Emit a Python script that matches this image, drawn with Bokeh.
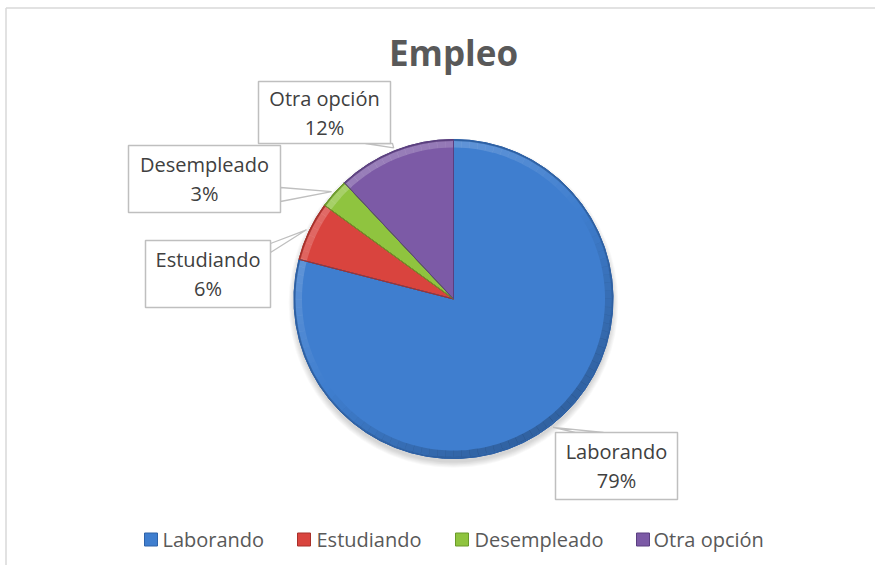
import math
from bokeh.plotting import figure
from bokeh.models import Range1d
from bokeh.core.properties import value
from bokeh.embed import file_html
from bokeh.resources import INLINE

# ---- data ----
categories = ["Laborando", "Estudiando", "Desempleado", "Otra opción"]
percentages = [79, 6, 3, 12]
title_text = "Empleo"

# ---- styles ----
colors = ["#3F7ECF", "#D9443E", "#8FC43F", "#7C5AA6"]
edge_colors = ["#2E62A8", "#A8302A", "#6A9A2A", "#5A3F80"]
FONT = "Open Sans"

W, H = 875, 565
p = figure(width=W, height=H, output_backend="svg", toolbar_location=None,
           x_range=Range1d(0, W), y_range=Range1d(0, H), min_border=0)
p.axis.visible = False
p.grid.visible = False
p.outline_line_color = None
p.background_fill_color = "white"
p.border_fill_color = "white"

def Y(py):
    return H - py

# chart border (top & left visible)
p.segment(x0=[5.5, 5.5], y0=[Y(7.5), Y(7.5)], x1=[W, 5.5], y1=[Y(7.5), 0],
          line_color="#D9D9D9", line_width=1.5)

# title
p.text(x=[453], y=[Y(52)], text=[title_text], text_font=value(FONT),
       text_font_size="35px", text_font_style="bold", text_color="#595959",
       text_align="center", text_baseline="middle")

# pie geometry
cx, cy, r = 453, Y(298.5), 159.5

# soft shadow
for i in range(7):
    p.circle(x=[cx], y=[cy - 4], radius=r + i * 0.9, fill_color="#000000",
             fill_alpha=0.022, line_color=None)

total = float(sum(percentages))
starts, ends, mids = [], [], []
cum = 0.0
for v in percentages:
    a0 = math.pi / 2 - 2 * math.pi * cum / total
    cum += v
    a1 = math.pi / 2 - 2 * math.pi * cum / total
    starts.append(a0)
    ends.append(a1)
    mids.append((a0 + a1) / 2)

p.wedge(x=[cx] * 4, y=[cy] * 4, radius=r, start_angle=starts, end_angle=ends,
        direction="clock", fill_color=colors, line_color=edge_colors, line_width=1)

# bevel: light toward upper-left, dark toward lower-right
nseg = 120
seg_s, seg_e, seg_c, seg_a = [], [], [], []
for j in range(nseg):
    a0 = 2 * math.pi * j / nseg
    a1 = 2 * math.pi * (j + 1) / nseg
    am = (a0 + a1) / 2
    k = math.cos(am - math.radians(125))
    seg_s.append(a0)
    seg_e.append(a1 + 0.002)
    if k >= 0:
        seg_c.append("#FFFFFF")
        seg_a.append(0.22 * k)
    else:
        seg_c.append("#000000")
        seg_a.append(0.22 * -k)
p.annular_wedge(x=[cx] * nseg, y=[cy] * nseg, inner_radius=r - 8, outer_radius=r - 1.5,
                start_angle=seg_s, end_angle=seg_e, fill_color=seg_c, fill_alpha=seg_a,
                line_color=None)
# dark outer rim
p.annular_wedge(x=[cx], y=[cy], inner_radius=r - 1.5, outer_radius=r,
                start_angle=[0], end_angle=[2 * math.pi], fill_color="#000000",
                fill_alpha=0.18, line_color=None)
# re-draw slice separators
p.wedge(x=[cx] * 4, y=[cy] * 4, radius=r, start_angle=starts, end_angle=ends,
        direction="clock", fill_color=None, line_color=edge_colors, line_width=1)

# label boxes (left, right, top, bottom) and callout base points (page px)
boxes = {
    "Laborando": ((555, 677, 432, 499), ((575, 432), (603, 432))),
    "Estudiando": ((145, 270, 240, 307), ((270, 243), (270, 252))),
    "Desempleado": ((128, 280, 145, 212), ((280, 187), (280, 201))),
    "Otra opción": ((258, 390, 81, 143), ((365, 143), (392, 143))),
}

for i, cat in enumerate(categories):
    (l, rr, t, b), (b1, b2) = boxes[cat]
    ex = cx + (r + 3) * math.cos(mids[i])
    ey = cy + (r + 3) * math.sin(mids[i])
    p.patch(x=[b1[0], ex, b2[0]], y=[Y(b1[1]), ey, Y(b2[1])], fill_color="white",
            line_color="#BFBFBF", line_width=1.3)
    p.quad(left=[l], right=[rr], top=[Y(t)], bottom=[Y(b)], fill_color="white",
           line_color="#BFBFBF", line_width=1.5)
    mxc = (l + rr) / 2
    myc = (t + b) / 2
    p.text(x=[mxc, mxc], y=[Y(myc - 14.5), Y(myc + 14.5)],
           text=[cat, "%d%%" % percentages[i]], text_font=value(FONT),
           text_font_size="20px", text_color="#404040",
           text_align="center", text_baseline="middle")

# legend
sq_left = [144, 297, 455, 636]
txt_left = [162, 316, 474, 653]
ly = Y(539)
p.rect(x=[s + 6.5 for s in sq_left], y=[ly] * 4, width=13, height=13,
       fill_color=colors, line_color=edge_colors, line_width=1)
p.text(x=txt_left, y=[ly] * 4, text=categories, text_font=value(FONT),
       text_font_size="20px", text_color="#595959",
       text_align="left", text_baseline="middle")

open("out.html", "w").write(file_html(p, INLINE))
